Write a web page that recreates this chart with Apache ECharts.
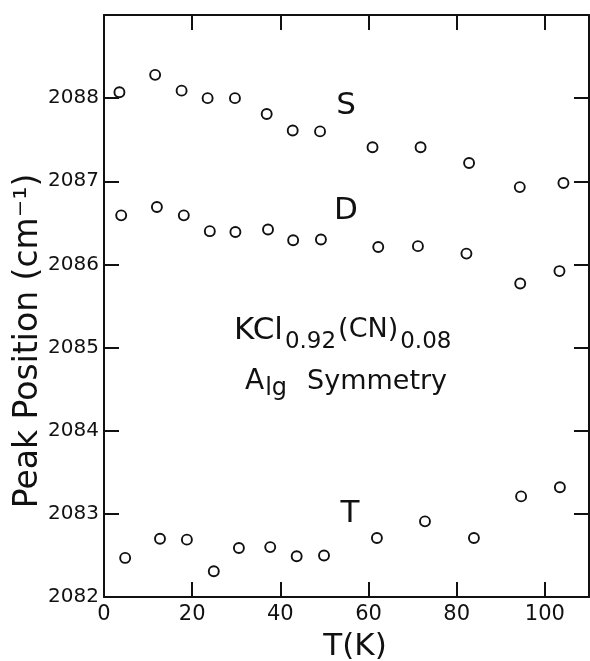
<!DOCTYPE html>
<html>
<head>
<meta charset="utf-8">
<script src="https://cdn.jsdelivr.net/npm/echarts@6/dist/echarts.min.js"></script>
<style>
  html, body { margin: 0; padding: 0; background: #ffffff; }
  #chart { width: 590px; height: 661px; }
</style>
</head>
<body>
<div id="chart"></div>
<script>
// Peak positions (cm^-1) of the three bands versus temperature (K)
const tempS = [3.5, 11.6, 17.6, 23.5, 29.7, 36.9, 42.8, 49.0, 60.9, 71.8, 82.8, 94.3, 104.2];
const peakS = [2088.07, 2088.28, 2088.09, 2088.00, 2088.00, 2087.81, 2087.61, 2087.60, 2087.41, 2087.41, 2087.22, 2086.93, 2086.98];

const tempD = [3.9, 12.0, 18.1, 24.0, 29.8, 37.2, 42.9, 49.2, 62.2, 71.2, 82.2, 94.4, 103.3];
const peakD = [2086.59, 2086.69, 2086.59, 2086.40, 2086.39, 2086.42, 2086.29, 2086.30, 2086.21, 2086.22, 2086.13, 2085.77, 2085.92];

const tempT = [4.8, 12.7, 18.8, 24.9, 30.6, 37.7, 43.7, 49.9, 61.9, 72.8, 83.9, 94.6, 103.4];
const peakT = [2082.47, 2082.70, 2082.69, 2082.31, 2082.59, 2082.60, 2082.49, 2082.50, 2082.71, 2082.91, 2082.71, 2083.21, 2083.32];

// Axis ticks and labels
const xLabels = [0, 20, 40, 60, 80, 100];
const xTicks = [20, 40, 60, 80, 100];
const yLabels = [2082, 2083, 2084, 2085, 2086, 2087, 2088];
const yTicks = [2083, 2084, 2085, 2086, 2087, 2088];

const INK = '#111111';
const FONT = 'DejaVu Sans';

function pairs(xs, ys) {
  return xs.map(function (x, i) { return [x, ys[i]]; });
}

function scatter(name, xs, ys) {
  return {
    name: name,
    type: 'scatter',
    xAxisIndex: 0,
    yAxisIndex: 0,
    symbol: 'circle',
    symbolSize: 10,
    itemStyle: { color: '#ffffff', borderColor: INK, borderWidth: 1.9, opacity: 1 },
    emphasis: { disabled: true },
    data: pairs(xs, ys)
  };
}

function fontOf(size) {
  return size + 'px "' + FONT + '"';
}

// Single text item placed by its centre x and alphabetic baseline
function label(text, cx, baseline, size) {
  return {
    type: 'text',
    silent: true,
    style: {
      text: text,
      x: cx,
      y: baseline - 0.36 * size,
      font: fontOf(size),
      fill: INK,
      align: 'center',
      verticalAlign: 'middle',
      textAlign: 'center',
      textVerticalAlign: 'middle'
    }
  };
}

// A run of text pieces (with sub/superscripts) laid end to end from a left edge
const measureCtx = document.createElement('canvas').getContext('2d');
function run(pieces, left, baseline) {
  let x = left;
  const out = [];
  pieces.forEach(function (p) {
    measureCtx.font = fontOf(p.size);
    const w = measureCtx.measureText(p.text).width;
    x += p.gap || 0;
    out.push({
      type: 'text',
      silent: true,
      style: {
        text: p.text,
        x: x,
        y: baseline + (p.dy || 0) - 0.36 * p.size,
        font: fontOf(p.size),
        fill: INK,
        align: 'left',
        verticalAlign: 'middle',
        textAlign: 'left',
        textVerticalAlign: 'middle'
      }
    });
    x += w;
  });
  return out;
}

const lineStyle = { color: INK, width: 2 };
const tickStyle = { color: INK, width: 2 };
const plain = function (v) { return String(v); };

const option = {
  backgroundColor: '#ffffff',
  animation: false,
  grid: { left: 104, right: 1, top: 15, bottom: 64, containLabel: false },
  xAxis: [
    {
      type: 'value', position: 'bottom', min: 0, max: 110,
      axisLine: { show: true, onZero: false, lineStyle: lineStyle },
      axisTick: { show: true, inside: true, length: 15, lineStyle: tickStyle, customValues: xTicks },
      axisLabel: { show: true, customValues: xLabels, formatter: plain, fontSize: 21, fontFamily: FONT, color: INK, margin: 7 },
      splitLine: { show: false }
    },
    {
      type: 'value', position: 'top', min: 0, max: 110,
      axisLine: { show: true, onZero: false, lineStyle: lineStyle },
      axisTick: { show: true, inside: true, length: 15, lineStyle: tickStyle, customValues: xTicks },
      axisLabel: { show: false },
      splitLine: { show: false }
    }
  ],
  yAxis: [
    {
      type: 'value', position: 'left', min: 2082, max: 2089,
      axisLine: { show: true, onZero: false, lineStyle: lineStyle },
      axisTick: { show: true, inside: true, length: 15, lineStyle: tickStyle, customValues: yTicks },
      axisLabel: { show: true, customValues: yLabels, formatter: plain, fontSize: 20, fontFamily: FONT, color: INK, margin: 5 },
      splitLine: { show: false }
    },
    {
      type: 'value', position: 'right', min: 2082, max: 2089,
      axisLine: { show: true, onZero: false, lineStyle: lineStyle },
      axisTick: { show: true, inside: true, length: 15, lineStyle: tickStyle, customValues: yTicks },
      axisLabel: { show: false },
      splitLine: { show: false }
    }
  ],
  series: [
    scatter('S', tempS, peakS),
    scatter('D', tempD, peakD),
    scatter('T', tempT, peakT)
  ],
  graphic: [].concat(
    // band names
    [label('S', 346, 117, 31), label('D', 346, 222, 31), label('T', 350, 525, 31)],
    // composition: KCl_0.92 (CN)_0.08
    run([
      { text: 'KCl', size: 31 },
      { text: '0.92', size: 23, dy: 8, gap: 2 },
      { text: '(CN)', size: 27, dy: -2, gap: 2 },
      { text: '0.08', size: 23, dy: 8, gap: 2 }
    ], 234, 342),
    // symmetry: A_lg Symmetry
    run([
      { text: 'A', size: 28 },
      { text: 'lg', size: 24, dy: 5, gap: 1 },
      { text: 'Symmetry', size: 27, gap: 20 }
    ], 245, 392),
    // axis titles
    [label('T(K)', 355, 658, 31)],
    [{
      type: 'text', silent: true,
      x: 28, y: 341, rotation: Math.PI / 2,
      style: {
        text: 'Peak Position (cm⁻¹)', x: 0, y: 0,
        font: fontOf(33), fill: INK,
        align: 'center', verticalAlign: 'middle',
        textAlign: 'center', textVerticalAlign: 'middle'
      }
    }]
  )
};

const chart = echarts.init(document.getElementById('chart'), null, { renderer: 'canvas' });
chart.setOption(option);
</script>
</body>
</html>
